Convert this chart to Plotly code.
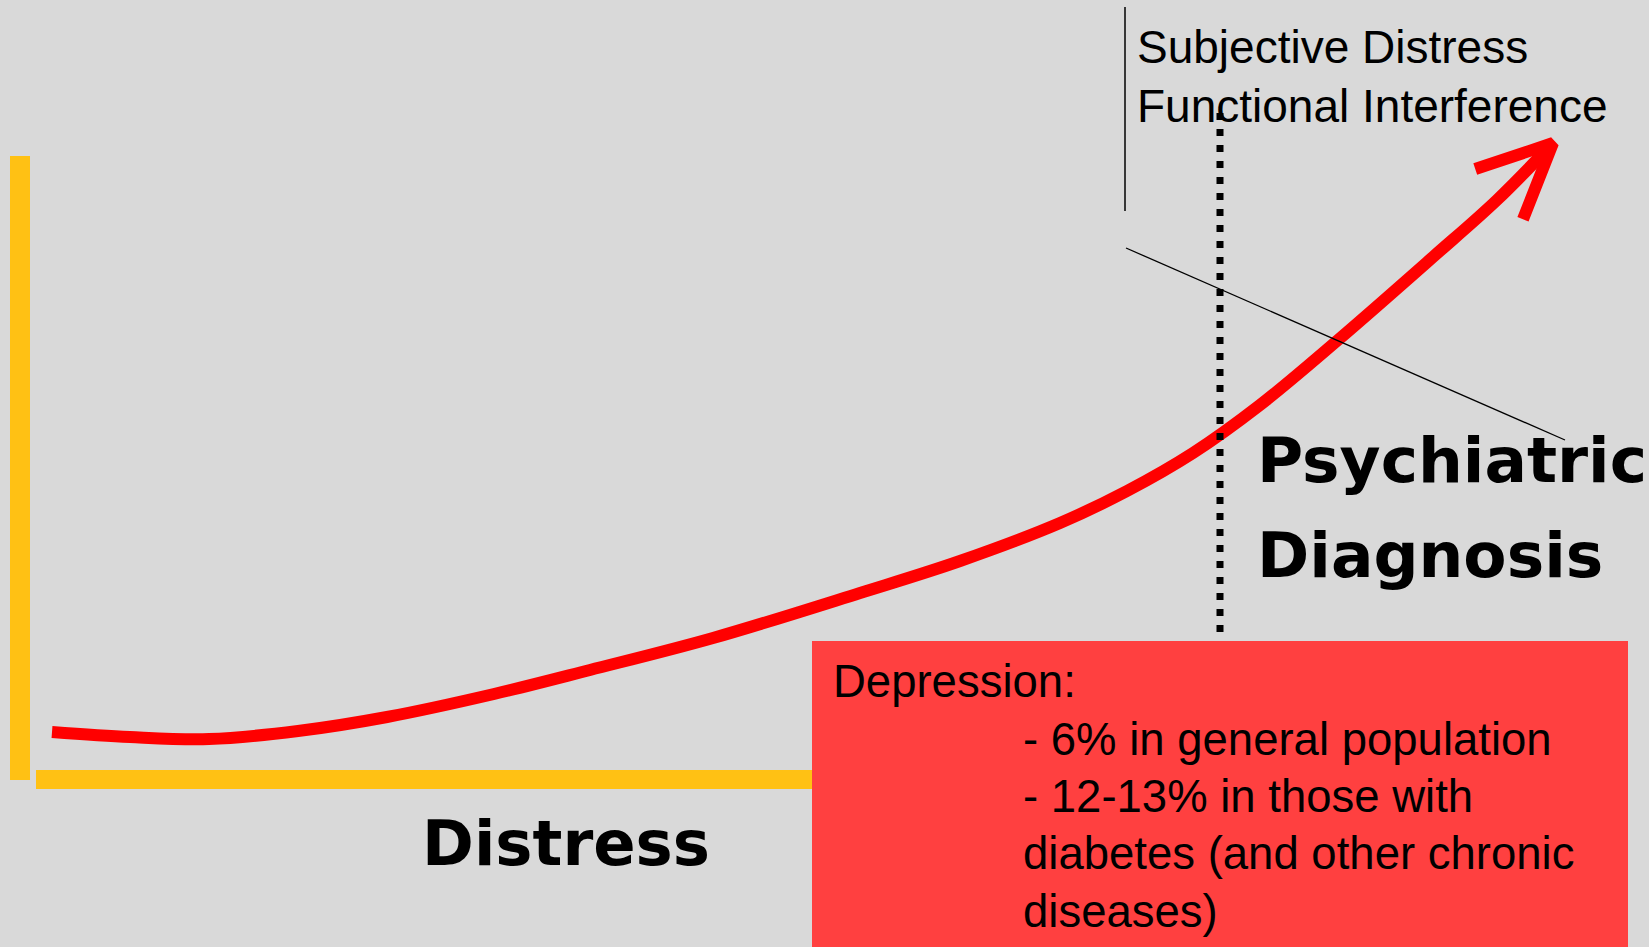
import math
import plotly.graph_objects as go

W, H = 1649, 947

# Red "distress" curve (pixel-like coordinates, y downward)
curve_x = [52, 130, 209, 298, 387, 494, 590, 713, 860, 960, 1060, 1127, 1193, 1260, 1338, 1433, 1497, 1553]
curve_y = [732, 737, 739, 731, 717, 694, 670, 638, 593, 561, 523, 491, 453, 405, 340, 257, 200, 143]

# Texts
top_labels = ["Subjective Distress", "Functional Interference"]
diag_labels = ["Psychiatric", "Diagnosis"]
axis_label = "Distress"
box_lines = ["Depression:", "- 6% in general population", "- 12-13% in those with",
             "diabetes (and other chronic", "diseases)"]

BG = "#D9D9D9"
YELLOW = "#FFC114"
RED = "#FF0000"
BOX = "#FF4040"
REG_FONT = "Liberation Sans, Arial, sans-serif"
BOLD_FONT = "DejaVu Sans, Arial Black, sans-serif"

fig = go.Figure()

# main curve
fig.add_trace(go.Scatter(x=curve_x, y=curve_y, mode="lines",
                         line=dict(color=RED, width=12, shape="spline", smoothing=1.0),
                         hoverinfo="skip", showlegend=False))

# open arrowhead derived from the curve's end direction
tx, ty = curve_x[-1], curve_y[-1]
bx, by = curve_x[-3], curve_y[-3]
ang = math.atan2(by - ty, bx - tx)
hl, ha = 82, math.radians(25)
w1 = (tx + hl * math.cos(ang + ha), ty + hl * math.sin(ang + ha))
w2 = (tx + hl * math.cos(ang - ha), ty + hl * math.sin(ang - ha))
fig.add_trace(go.Scatter(x=[w1[0], tx, w2[0]], y=[w1[1], ty, w2[1]], mode="lines",
                         line=dict(color=RED, width=12),
                         hoverinfo="skip", showlegend=False))

shapes = [
    # yellow axes
    dict(type="rect", x0=10, x1=30, y0=156, y1=780, fillcolor=YELLOW, line_width=0, layer="below"),
    dict(type="rect", x0=36, x1=900, y0=770, y1=789, fillcolor=YELLOW, line_width=0, layer="below"),
    # dotted threshold line
    dict(type="line", x0=1220, x1=1220, y0=113, y1=641,
         line=dict(color="black", width=7, dash="7px,9px"), layer="above"),
    # thin callout lines
    dict(type="line", x0=1125, x1=1125, y0=7, y1=211, line=dict(color="black", width=1.5), layer="above"),
    dict(type="line", x0=1126, x1=1565, y0=248, y1=440, line=dict(color="black", width=1.3), layer="above"),
    # red info box
    dict(type="rect", x0=812, x1=1628, y0=641, y1=960, fillcolor=BOX, line_width=0, layer="above"),
]

ann = []
def add_text(t, x, baseline, size, family, bold=False):
    cy = baseline - 0.346 * size
    ann.append(dict(x=x, y=cy, xref="x", yref="y", text=f"<b>{t}</b>" if bold else t,
                    showarrow=False, xanchor="left", yanchor="middle",
                    font=dict(family=family, size=size, color="black")))

add_text(top_labels[0], 1135, 63, 46, REG_FONT)
add_text(top_labels[1], 1135, 122, 46, REG_FONT)
add_text(diag_labels[0], 1255, 482, 63, BOLD_FONT, bold=True)
add_text(diag_labels[1], 1255, 577, 63, BOLD_FONT, bold=True)
add_text(axis_label, 420, 865, 62.5, BOLD_FONT, bold=True)

box_x = [831, 1021, 1021, 1021, 1021]
box_base = [697, 755, 812, 869, 927]
for t, x, b in zip(box_lines, box_x, box_base):
    add_text(t, x, b, 45.5, REG_FONT)

fig.update_layout(
    width=W, height=H, margin=dict(l=0, r=0, t=0, b=0),
    paper_bgcolor=BG, plot_bgcolor=BG,
    xaxis=dict(range=[0, W], visible=False, fixedrange=True),
    yaxis=dict(range=[H, 0], visible=False, fixedrange=True),
    shapes=shapes, annotations=ann, showlegend=False,
)

fig.write_html("out.html", config={"displayModeBar": False})
